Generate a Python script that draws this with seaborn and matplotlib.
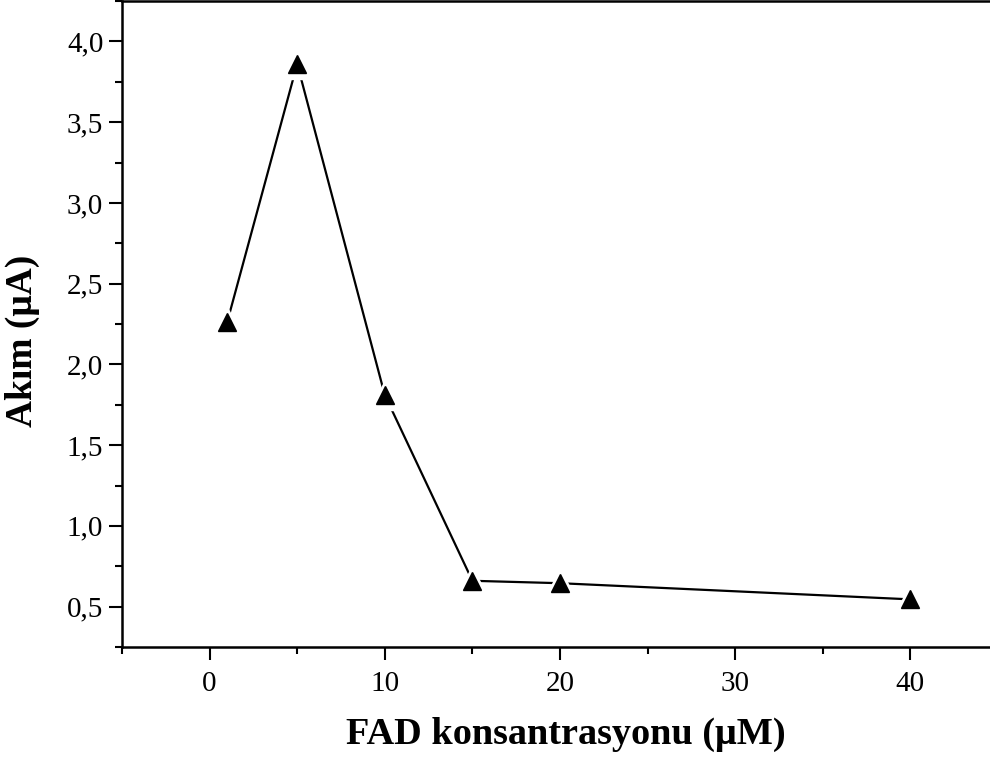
import matplotlib
matplotlib.use("Agg")
import matplotlib.pyplot as plt
import seaborn as sns
import pandas as pd
from matplotlib.ticker import MultipleLocator, FuncFormatter

# Data
fad_conc = [1, 5, 10, 15, 20, 40]
current = [2.26, 3.86, 1.81, 0.66, 0.645, 0.545]
x_label = "FAD konsantrasyonu (\u03bcM)"
y_label = "Ak\u0131m (\u03bcA)"

df = pd.DataFrame({"x": fad_conc, "y": current})

sns.set_theme(style="ticks")
plt.rcParams["font.family"] = ["Liberation Serif", "DejaVu Serif"]
for k in ["text.color", "axes.labelcolor", "xtick.color", "ytick.color", "axes.edgecolor"]:
    plt.rcParams[k] = "black"

fig = plt.figure(figsize=(9.9, 7.64), dpi=100)
ax = fig.add_axes([122 / 990, 1 - 647 / 764, 876 / 990, 646 / 764])

sns.lineplot(data=df, x="x", y="y", ax=ax, color="black", linewidth=1.6,
             zorder=2, legend=False)
# white halo to emulate the gap between line and markers
ax.plot(df["x"], df["y"], linestyle="none", marker="^", markersize=21,
        markerfacecolor="white", markeredgecolor="white", zorder=3)
ax.plot(df["x"], df["y"], linestyle="none", marker="^", markersize=13,
        markerfacecolor="black", markeredgecolor="black", zorder=4)

ax.set_xlim(-5, 45)
ax.set_ylim(0.25, 4.25)
ax.xaxis.set_major_locator(MultipleLocator(10))
ax.xaxis.set_minor_locator(MultipleLocator(5))
ax.yaxis.set_major_locator(MultipleLocator(0.5))
ax.yaxis.set_minor_locator(MultipleLocator(0.25))
ax.yaxis.set_major_formatter(FuncFormatter(lambda v, p: f"{v:.1f}".replace(".", ",")))

for s in ["left", "bottom", "top", "right"]:
    ax.spines[s].set_linewidth(1.8)
    ax.spines[s].set_color("black")

ax.tick_params(which="major", direction="out", length=9.5, width=1.5,
               labelsize=21, colors="black")
ax.tick_params(axis="y", which="major", pad=4)
ax.tick_params(axis="x", which="major", pad=8)
ax.tick_params(which="minor", direction="out", length=5, width=1.5, colors="black")

ax.set_xlabel(x_label, fontsize=27.5, fontweight="bold")
ax.set_ylabel(y_label, fontsize=27, fontweight="bold")
ax.xaxis.set_label_coords(0.507, -0.108)
ax.yaxis.set_label_coords(-0.094, 0.474)

fig.savefig("out.png", dpi=100)
